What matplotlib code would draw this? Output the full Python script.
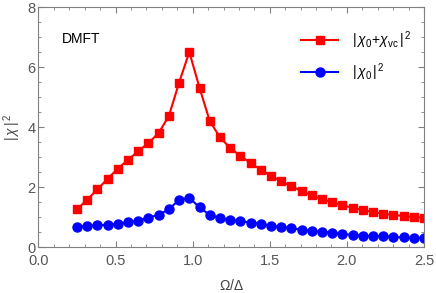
import numpy as np
import matplotlib
matplotlib.use("Agg")
import matplotlib.pyplot as plt
from matplotlib.ticker import MultipleLocator

plt.rcParams['font.family'] = ['Liberation Sans', 'DejaVu Sans']
plt.rcParams['mathtext.fontset'] = 'custom'
plt.rcParams['mathtext.rm'] = 'Liberation Sans'
plt.rcParams['mathtext.it'] = 'Liberation Sans:italic'

# frequencia normalizada (35 pontos de 0.25 ate 2.5)
omega = np.linspace(0.25, 2.5, 35)

# |chi0 + chi_vc|^2
chi_tot = [1.27, 1.59, 1.93, 2.29, 2.62, 2.92, 3.20, 3.48, 3.81, 4.38,
           5.49, 6.51, 5.32, 4.21, 3.67, 3.31, 3.05, 2.81, 2.59, 2.38,
           2.20, 2.03, 1.88, 1.73, 1.61, 1.50, 1.40, 1.32, 1.24, 1.18,
           1.12, 1.08, 1.04, 1.01, 0.99]

# |chi0|^2
chi_0 = [0.69, 0.71, 0.74, 0.75, 0.78, 0.83, 0.89, 0.99, 1.08, 1.27,
         1.58, 1.65, 1.33, 1.08, 0.97, 0.91, 0.88, 0.82, 0.79, 0.71,
         0.69, 0.63, 0.59, 0.55, 0.52, 0.49, 0.44, 0.41, 0.39, 0.37,
         0.37, 0.34, 0.33, 0.32, 0.31]

fig = plt.figure(figsize=(4.36, 2.93), dpi=100)
ax = fig.add_axes([0.0883, 0.156, 0.8842, 0.819])

ax.plot(omega, chi_tot, color='#ff0000', lw=1.5, marker='s', ms=5.5,
        label=r'$|\,\chi_{\rm 0}\!+\!\chi_{\rm vc}\,|^{\,2}$')
ax.plot(omega, chi_0, color='#0000ff', lw=1.5, marker='o', ms=6.5,
        label=r'$|\,\chi_{\rm 0}\,|^{\,2}$')

ax.set_xlim(0, 2.5)
ax.set_ylim(0, 8)
ax.xaxis.set_major_locator(MultipleLocator(0.5))
ax.xaxis.set_minor_locator(MultipleLocator(0.1))
ax.yaxis.set_major_locator(MultipleLocator(2))
ax.yaxis.set_minor_locator(MultipleLocator(0.5))
ax.xaxis.set_major_formatter(matplotlib.ticker.FormatStrFormatter('%.1f'))

grey = '#808080'
for s in ax.spines.values():
    s.set_color(grey)
    s.set_linewidth(0.8)
ax.tick_params(which='both', direction='in', top=True, right=True,
               color=grey, labelcolor='#555555', labelsize=10.5)
ax.tick_params(which='major', length=4, width=0.8)
ax.tick_params(axis='x', which='major', pad=5)
ax.tick_params(axis='y', which='major', pad=2)
ax.tick_params(which='minor', length=2.5, width=0.6)

ax.set_xlabel(r'$\Omega/\Delta$', fontsize=10, color='#444444', labelpad=7)
ax.set_ylabel(r'$|\,\chi\,|^{\,2}$', fontsize=10, color='#444444', labelpad=3)

ax.text(0.15, 6.95, 'DMFT', fontsize=10, va='center', ha='left')

ax.legend(loc='upper right', bbox_to_anchor=(1.0, 0.96), frameon=False,
          fontsize=10, handlelength=2.7, labelspacing=0.75, handletextpad=1.0)

fig.savefig('out.png', dpi=100)
